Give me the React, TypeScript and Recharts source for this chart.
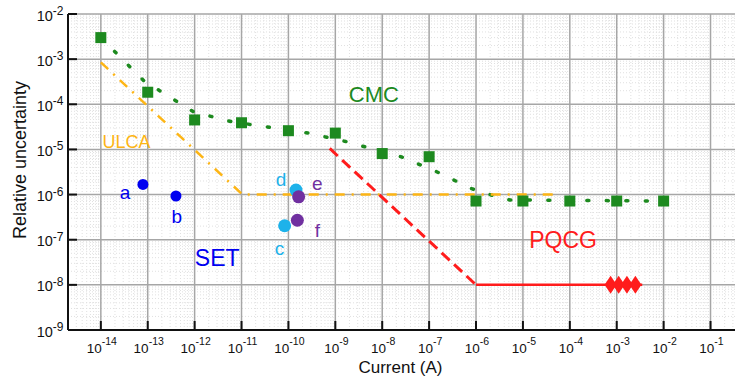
import React from 'react';
import { ComposedChart, XAxis, YAxis, CartesianGrid, Line, Scatter } from 'recharts';

const FONT = '"Liberation Sans", Arial, Helvetica, sans-serif';

// Axis decades (tick values) and their exponent labels
const xTickExponents = ['-14', '-13', '-12', '-11', '-10', '-9', '-8', '-7', '-6', '-5', '-4', '-3', '-2', '-1'];
const yTickExponents = ['-9', '-8', '-7', '-6', '-5', '-4', '-3', '-2'];
const xTicks = xTickExponents.map((e) => Math.pow(10, Number(e)));
const yTicks = yTickExponents.map((e) => Math.pow(10, Number(e)));

// CMC: calibration capability (squares) and its dotted trend
const cmcCurrents = [1e-14, 1e-13, 1e-12, 1e-11, 1e-10, 1e-9, 1e-8, 1e-7, 1e-6, 1e-5, 1e-4, 1e-3, 1e-2];
const cmcUncertainty = [3.0e-3, 1.85e-4, 4.5e-5, 3.9e-5, 2.6e-5, 2.3e-5, 8.1e-6, 6.9e-6, 7.2e-7, 7.2e-7, 7.2e-7, 7.2e-7, 7.2e-7];
const cmcTrendCurrents = [1e-14, 8.3e-14, 9.5e-13, 6.2e-12, 4.0e-11, 2.6e-10, 1.66e-9, 2.6e-8, 1.45e-7, 8.1e-7, 2.1e-6, 5.2e-6, 1e-2];
const cmcTrendUncertainty = [3.0e-3, 3.3e-4, 6.8e-5, 4.1e-5, 3.1e-5, 2.3e-5, 1.5e-5, 6.8e-6, 3.2e-6, 1.35e-6, 9.8e-7, 7.6e-7, 7.2e-7];

// ULCA
const ulcaCurrents = [1e-14, 1.05e-11, 5e-5];
const ulcaUncertainty = [8.5e-4, 1.0e-6, 1.0e-6];

// PQCG
const pqcgDashCurrents = [7.6e-10, 1e-6];
const pqcgDashUncertainty = [1.05e-5, 1e-8];
const pqcgSolidCurrents = [1e-6, 3.5e-3];
const pqcgSolidUncertainty = [1e-8, 1e-8];
const pqcgPointCurrents = [7.4e-4, 1.1e-3, 1.65e-3, 2.5e-3];
const pqcgPointUncertainty = [1e-8, 1e-8, 1e-8, 1e-8];

// SET pumps
const setCurrents = [7.9e-14, 4.0e-13];
const setUncertainty = [1.68e-6, 9.3e-7];
const cyanCurrents = [8.3e-11, 1.45e-10];
const cyanUncertainty = [2.04e-7, 1.26e-6];
const purpleCurrents = [1.55e-10, 1.65e-10];
const purpleUncertainty = [2.7e-7, 8.9e-7];

// Annotations (text anchored at its start / baseline)
const annotationTexts = ['ULCA', 'CMC', 'PQCG', 'SET', 'a', 'b', 'c', 'd', 'e', 'f'];
const annotationCurrents = [1.09e-14, 1.94e-9, 1.36e-5, 1.01e-12, 2.54e-14, 3.21e-13, 5.13e-11, 5.38e-11, 3.2e-10, 3.66e-10];
const annotationUncertainty = [1.09e-5, 1.135e-4, 6.7e-8, 2.58e-8, 7.78e-7, 2.29e-7, 4.53e-8, 1.53e-6, 1.25e-6, 1.15e-7];

const GREEN = '#1d8a1f';
const ORANGE = '#fdb515';
const RED = '#ff1c1c';
const BLUE = '#0000f0';
const CYAN = '#1db2ea';
const PURPLE = '#7030a0';

const annotationStyle: Record<string, { color: string; size: number }> = {
  ULCA: { color: ORANGE, size: 18 },
  CMC: { color: GREEN, size: 22 },
  PQCG: { color: RED, size: 23 },
  SET: { color: BLUE, size: 23 },
  a: { color: BLUE, size: 19 },
  b: { color: BLUE, size: 19 },
  c: { color: CYAN, size: 19 },
  d: { color: CYAN, size: 19 },
  e: { color: PURPLE, size: 19 },
  f: { color: PURPLE, size: 19 },
};

const pts = (xs: number[], ys: number[]) => xs.map((x, i) => ({ x, y: ys[i] }));

const cmcPoints = pts(cmcCurrents, cmcUncertainty);
const cmcTrend = pts(cmcTrendCurrents, cmcTrendUncertainty);
const ulcaLine = pts(ulcaCurrents, ulcaUncertainty);
const pqcgDash = pts(pqcgDashCurrents, pqcgDashUncertainty);
const pqcgSolid = pts(pqcgSolidCurrents, pqcgSolidUncertainty);
const pqcgPoints = pts(pqcgPointCurrents, pqcgPointUncertainty);
const setPoints = pts(setCurrents, setUncertainty);
const cyanPoints = pts(cyanCurrents, cyanUncertainty);
const purplePoints = pts(purpleCurrents, purpleUncertainty);
const annotations = annotationTexts.map((text, i) => ({ x: annotationCurrents[i], y: annotationUncertainty[i], text }));

const X_DOMAIN: [number, number] = [Math.pow(10, -14.7), Math.pow(10, -0.35)];
const Y_DOMAIN: [number, number] = [1e-9, 1e-2];

// Minor (2..9) log grid positions
const minorValues = (lo: number, hi: number) => {
  const out: number[] = [];
  for (let e = Math.floor(Math.log10(lo)); e <= Math.ceil(Math.log10(hi)); e++) {
    for (let m = 2; m <= 9; m++) {
      const v = m * Math.pow(10, e);
      if (v > lo && v < hi) out.push(v);
    }
  }
  return out;
};
const minorX = minorValues(X_DOMAIN[0], X_DOMAIN[1]);
const minorY = minorValues(Y_DOMAIN[0], Y_DOMAIN[1]);

const TICK_LEN = 9;
const AXIS_COLOR = '#111';

const BottomTick = (props: any) => {
  const { x, y, payload, index } = props;
  const exp = xTickExponents[index] ?? String(Math.round(Math.log10(payload.value)));
  return (
    <g>
      <line x1={x} x2={x} y1={y} y2={y - TICK_LEN} stroke={AXIS_COLOR} strokeWidth={2} />
      <text x={x + 1} y={y + 23} fontSize={13.5} fontFamily={FONT} fill="#111" textAnchor="middle">
        <tspan>10</tspan>
        <tspan fontSize={10.5} dy={-8}>{exp}</tspan>
      </text>
    </g>
  );
};

const TopTick = (props: any) => {
  const { x, y } = props;
  return <line x1={x} x2={x} y1={y} y2={y + TICK_LEN} stroke={AXIS_COLOR} strokeWidth={2} />;
};

const LeftTick = (props: any) => {
  const { x, y, payload, index } = props;
  const exp = yTickExponents[index] ?? String(Math.round(Math.log10(payload.value)));
  return (
    <g>
      <line x1={x} x2={x + TICK_LEN} y1={y} y2={y} stroke={AXIS_COLOR} strokeWidth={2} />
      <text x={x - 4.5} y={y + 6.5} fontSize={14.5} fontFamily={FONT} fill="#111" textAnchor="end">
        <tspan>10</tspan>
        <tspan fontSize={12} dy={-5.5}>{exp}</tspan>
      </text>
    </g>
  );
};

const RightTick = (props: any) => {
  const { x, y } = props;
  return <line x1={x - TICK_LEN} x2={x} y1={y} y2={y} stroke={AXIS_COLOR} strokeWidth={2} />;
};

const squareShape = (p: any) => <rect x={p.cx - 5.5} y={p.cy - 5.5} width={11} height={11} fill={GREEN} />;
const circleShape = (color: string, r: number) => (p: any) => <circle cx={p.cx} cy={p.cy} r={r} fill={color} />;
const diamondShape = (p: any) => (
  <polygon
    points={`${p.cx - 6},${p.cy} ${p.cx},${p.cy - 9} ${p.cx + 6},${p.cy} ${p.cx},${p.cy + 9}`}
    fill={RED}
  />
);
const textShape = (p: any) => {
  const text = p.payload?.text ?? '';
  const st = annotationStyle[text] ?? { color: '#000', size: 18 };
  return (
    <text x={p.cx} y={p.cy} fill={st.color} fontSize={st.size} fontFamily={FONT}>
      {text}
    </text>
  );
};

export default function App() {
  return (
    <div style={{ position: 'absolute', left: 0, top: 0, width: 735, height: 381, overflow: 'hidden', background: '#fff' }}>
      <ComposedChart width={742} height={381} margin={{ top: 14, right: 1, bottom: 0, left: 0 }}>
        <CartesianGrid
          stroke="#e0e0e0"
          strokeDasharray="1 2"
          strokeWidth={1}
          horizontalValues={minorY}
          verticalValues={minorX}
        />
        <CartesianGrid stroke="#a6a6a6" strokeWidth={1.5} horizontalValues={yTicks} verticalValues={xTicks} />
        <XAxis
          dataKey="x"
          type="number"
          scale="log"
          domain={X_DOMAIN}
          allowDataOverflow
          ticks={xTicks}
          interval={0}
          height={51}
          tickSize={0}
          tickMargin={0}
          tickLine={false}
          axisLine={{ stroke: AXIS_COLOR, strokeWidth: 2 }}
          tick={BottomTick}
        />
        <XAxis
          xAxisId="top"
          orientation="top"
          dataKey="x"
          type="number"
          scale="log"
          domain={X_DOMAIN}
          allowDataOverflow
          ticks={xTicks}
          interval={0}
          height={0}
          tickSize={0}
          tickMargin={0}
          tickLine={false}
          axisLine={{ stroke: AXIS_COLOR, strokeWidth: 2 }}
          tick={TopTick}
        />
        <YAxis
          dataKey="y"
          type="number"
          scale="log"
          domain={Y_DOMAIN}
          allowDataOverflow
          ticks={yTicks}
          interval={0}
          width={68}
          tickSize={0}
          tickMargin={0}
          tickLine={false}
          axisLine={{ stroke: AXIS_COLOR, strokeWidth: 2 }}
          tick={LeftTick}
        />
        <YAxis
          yAxisId="right"
          orientation="right"
          dataKey="y"
          type="number"
          scale="log"
          domain={Y_DOMAIN}
          allowDataOverflow
          ticks={yTicks}
          interval={0}
          width={0}
          tickSize={0}
          tickMargin={0}
          tickLine={false}
          axisLine={{ stroke: AXIS_COLOR, strokeWidth: 2 }}
          tick={RightTick}
        />

        <Line
          data={cmcTrend}
          dataKey="y"
          stroke={GREEN}
          strokeWidth={3.5}
          strokeDasharray="2 17.5"
          strokeLinecap="round"
          dot={false}
          activeDot={false}
          isAnimationActive={false}
        />
        <Scatter data={cmcPoints} dataKey="y" shape={squareShape} isAnimationActive={false} />
        <Line
          data={ulcaLine}
          dataKey="y"
          stroke={ORANGE}
          strokeWidth={2.5}
          strokeDasharray="10 7 2 7"
          dot={false}
          activeDot={false}
          isAnimationActive={false}
        />
        <Line
          data={pqcgDash}
          dataKey="y"
          stroke={RED}
          strokeWidth={3}
          strokeDasharray="11 6"
          dot={false}
          activeDot={false}
          isAnimationActive={false}
        />
        <Line
          data={pqcgSolid}
          dataKey="y"
          stroke={RED}
          strokeWidth={2.5}
          dot={false}
          activeDot={false}
          isAnimationActive={false}
        />
        <Scatter data={pqcgPoints} dataKey="y" shape={diamondShape} isAnimationActive={false} />
        <Scatter data={setPoints} dataKey="y" shape={circleShape(BLUE, 5.5)} isAnimationActive={false} />
        <Scatter data={cyanPoints} dataKey="y" shape={circleShape(CYAN, 6.5)} isAnimationActive={false} />
        <Scatter data={purplePoints} dataKey="y" shape={circleShape(PURPLE, 6.5)} isAnimationActive={false} />
        <Scatter data={annotations} dataKey="y" shape={textShape} isAnimationActive={false} />
      </ComposedChart>
      <svg width={735} height={381} style={{ position: 'absolute', left: 0, top: 0, pointerEvents: 'none' }}>
        <text x={400.5} y={373} fontSize={17} fontFamily={FONT} fill="#111" textAnchor="middle">
          Current (A)
        </text>
        <text transform="translate(26,160) rotate(-90)" fontSize={18} fontFamily={FONT} fill="#111" textAnchor="middle">
          Relative uncertainty
        </text>
      </svg>
    </div>
  );
}
